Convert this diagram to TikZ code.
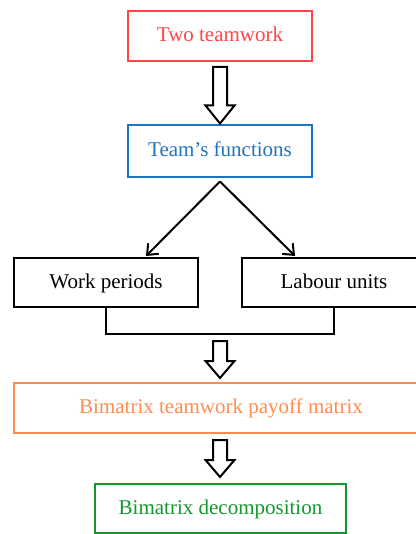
\documentclass[tikz,border=0pt]{standalone}
\usepackage{fontspec}
\setmainfont{Liberation Serif}
\usetikzlibrary{arrows.meta,calc}
\definecolor{cred}{HTML}{FF4545}
\definecolor{cblue}{HTML}{1F74C0}
\definecolor{corange}{HTML}{FF8C4F}
\definecolor{cgreen}{HTML}{14962F}
\tikzset{
  box/.style={draw, line width=2pt, rectangle, minimum height=49pt, inner sep=0pt,
    text height=15pt, text depth=4pt,
    font=\fontsize{21}{25}\selectfont},
  hollow/.style={draw=black, fill=white, line width=2pt, line join=miter},
  conn/.style={line width=2pt, -{Straight Barb[length=9pt,width=15pt,line width=2pt]}},
  bracket/.style={line width=2pt}
}
\newcommand\blockarrow[3]{% start, tip, head length
  \draw[hollow] let \p1=(#1), \p2=(#2) in
    (\x1-7pt,\y1) -- (\x1+7pt,\y1) -- (\x1+7pt,\y2+#3) -- (\x1+14.5pt,\y2+#3)
    -- (\x1,\y2) -- (\x1-14.5pt,\y2+#3) -- (\x1-7pt,\y2+#3) -- cycle;}
\begin{document}
\begin{tikzpicture}[x=1pt,y=-1pt]
\useasboundingbox (0,0) rectangle (415,534);
\node[box, draw=cred, text=cred, minimum width=184pt, minimum height=50pt] (t1) at (220,36) {Two teamwork};
\node[box, draw=cblue, text=cblue, minimum width=184pt, minimum height=52pt] (t2) at (220,151.5) {Team’s functions};
\node[box, minimum width=184pt] (wp) at (106,282.5) {Work periods};
\node[box, minimum width=184pt] (lu) at (334,282.5) {Labour units};
\node[box, draw=corange, text=corange, minimum width=414pt, minimum height=50pt] (bm) at (221,408) {Bimatrix teamwork payoff matrix};
\node[box, draw=cgreen, text=cgreen, minimum width=251pt] (bd) at (220.5,508.5) {Bimatrix decomposition};
% block arrow 1
\coordinate (a1s) at ($(t1.south)+(0,5)$);
\coordinate (a1e) at ($(t2.north)+(0,-1)$);
\blockarrow{a1s}{a1e}{18pt}
% split
\coordinate (apex) at ($(t2.south)+(0,3)$);
\coordinate (wtip) at ($(wp.north)+(40,-1)$);
\coordinate (ltip) at ($(lu.north)+(-39,-1)$);
\draw[conn] (apex) -- (wtip);
\draw[conn] (apex) -- (ltip);
% bracket
\coordinate (bb) at (220,334);
\draw[bracket] (wp.south) |- (bb) -| (lu.south);
% block arrow 3
\coordinate (a3s) at ($(bb)+(0,7)$);
\coordinate (a3e) at ($(bm.north)+(-1,-4)$);
\blockarrow{a3s}{a3e}{17pt}
% block arrow 4
\coordinate (a4s) at ($(bm.south)+(-1,6)$);
\coordinate (a4e) at ($(bd.north)+(-0.5,-6)$);
\blockarrow{a4s}{a4e}{17pt}
\end{tikzpicture}
\end{document}
